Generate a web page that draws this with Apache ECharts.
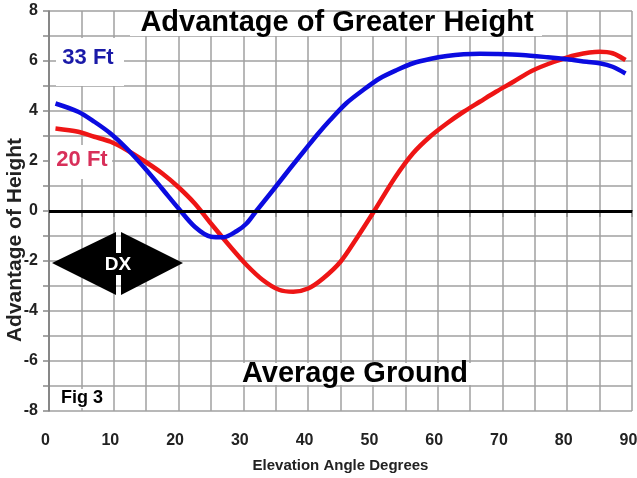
<!DOCTYPE html>
<html>
<head>
<meta charset="utf-8">
<script src="https://cdn.jsdelivr.net/npm/echarts@6/dist/echarts.min.js"></script>
<style>html,body{margin:0;padding:0;background:#fff;overflow:hidden;}#c{width:637px;height:478px;}</style>
</head>
<body>
<div id="c"></div>
<script>
// Elevation angle (deg) and advantage values
const angles33 = [1, 4.5, 7, 9.5, 12, 15, 17.5, 20, 22.5, 25, 27, 29, 30.5, 32, 34.6, 37.2, 39.5, 41.5, 43.4, 45.9, 48.5, 51.1, 53.7, 56.2, 58.8, 61.4, 64, 66.5, 69, 73, 77, 80, 83, 85, 87, 89];
const values33 = [4.3, 3.97, 3.57, 3.1, 2.5, 1.65, 0.88, 0.1, -0.63, -1.03, -1.05, -0.8, -0.5, 0.0, 0.84, 1.7, 2.44, 3.08, 3.64, 4.31, 4.84, 5.31, 5.64, 5.91, 6.08, 6.2, 6.27, 6.29, 6.28, 6.24, 6.15, 6.07, 5.97, 5.91, 5.77, 5.5];
const angles20 = [1, 4.5, 7, 9.5, 12, 15, 17.5, 20, 22.5, 25, 28, 30.5, 33, 35.5, 37.7, 40, 42.3, 45, 47.5, 50.3, 53.5, 56.2, 58.8, 61.4, 64, 66.5, 69, 71.7, 74.5, 78, 81.4, 85, 87, 89];
const values20 = [3.3, 3.17, 2.97, 2.77, 2.44, 1.95, 1.5, 0.95, 0.3, -0.5, -1.43, -2.16, -2.76, -3.15, -3.23, -3.1, -2.7, -2.03, -1.09, 0.04, 1.37, 2.31, 2.97, 3.5, 3.97, 4.37, 4.77, 5.17, 5.6, 5.97, 6.24, 6.37, 6.31, 6.04];
const xTicks = [0, 10, 20, 30, 40, 50, 60, 70, 80, 90];
const yTicks = [-8, -6, -4, -2, 0, 2, 4, 6, 8];

const pairs = (xs, ys) => xs.map((x, i) => [x, ys[i]]);
const chart = echarts.init(document.getElementById('c'), null, {renderer: 'canvas', width: 637, height: 478});
const labelFont = {fontFamily: 'Liberation Sans', fontWeight: 'bold', fontSize: 16, color: '#222'};
chart.setOption({
  animation: false,
  backgroundColor: '#fff',
  grid: {left: 49, right: 5, top: 11, bottom: 67, containLabel: false, outerBoundsMode: 'none'},
  xAxis: {
    type: 'value', min: 0, max: 90, interval: 5,
    name: 'Elevation Angle Degrees', nameLocation: 'middle', nameGap: 47,
    nameTextStyle: {fontFamily: 'Liberation Sans', fontWeight: 'bold', fontSize: 15, color: '#222'},
    axisLine: {show: true, lineStyle: {color: '#333', width: 2}},
    axisTick: {show: true, length: 6, lineStyle: {color: '#888', width: 1.5}},
    axisLabel: Object.assign({margin: 22, padding: [0, 7, 0, 0], formatter: v => xTicks.includes(v) ? String(v) : ''}, labelFont),
    splitLine: {show: true, lineStyle: {color: '#a0a0a0', width: 1.5}}
  },
  yAxis: {
    type: 'value', min: -8, max: 8, interval: 1,
    axisLine: {show: true, lineStyle: {color: '#777', width: 1.5}},
    axisTick: {show: true, length: 6, lineStyle: {color: '#888', width: 1.5}},
    axisLabel: Object.assign({margin: 11, formatter: v => yTicks.includes(v) ? String(v) : ''}, labelFont),
    splitLine: {show: true, lineStyle: {color: '#a0a0a0', width: 1.5}}
  },
  series: [
    {
      name: '20 Ft', type: 'line', data: pairs(angles20, values20), smooth: 0.3,
      showSymbol: false, lineStyle: {color: '#ee1515', width: 4.5}, z: 3,
      markLine: {silent: true, symbol: 'none', label: {show: false},
        lineStyle: {color: '#000', width: 3, type: 'solid'}, data: [{yAxis: 0}]}
    },
    {
      name: '33 Ft', type: 'line', data: pairs(angles33, values33), smooth: 0.3,
      showSymbol: false, lineStyle: {color: '#0b0be0', width: 4.5}, z: 4
    }
  ],
  graphic: [
    {type: 'rect', z: 50, shape: {x: 130, y: 12, width: 412, height: 24}, style: {fill: '#fff'}},
    {type: 'text', z: 51, x: 337, y: 23, style: {text: 'Advantage of Greater Height', font: 'bold 29px "Liberation Sans"', fill: '#000', align: 'center', verticalAlign: 'middle'}},
    {type: 'rect', z: 50, shape: {x: 56, y: 38, width: 68, height: 48}, style: {fill: '#fff'}},
    {type: 'text', z: 51, x: 88, y: 58, style: {text: '33 Ft', font: 'bold 22px "Liberation Sans"', fill: '#1a1aa8', align: 'center', verticalAlign: 'middle'}},
    {type: 'rect', z: 50, shape: {x: 50, y: 145, width: 62, height: 34}, style: {fill: '#fff'}},
    {type: 'text', z: 51, x: 82, y: 160, style: {text: '20 Ft', font: 'bold 22px "Liberation Sans"', fill: '#d8305a', align: 'center', verticalAlign: 'middle'}},
    {type: 'text', z: 51, x: 15, y: 240, rotation: Math.PI / 2, style: {text: 'Advantage of Height', font: 'bold 21px "Liberation Sans"', fill: '#222', align: 'center', verticalAlign: 'middle'}},
    {type: 'polygon', z: 40, shape: {points: [[52, 263], [116, 232], [116, 295]]}, style: {fill: '#000'}},
    {type: 'polygon', z: 40, shape: {points: [[121, 232], [183, 263], [121, 295]]}, style: {fill: '#000'}},
    {type: 'rect', z: 40, shape: {x: 115, y: 253, width: 7, height: 22}, style: {fill: '#000'}},
    {type: 'text', z: 41, x: 118, y: 265, style: {text: 'DX', font: 'bold 19px "Liberation Sans"', fill: '#fff', align: 'center', verticalAlign: 'middle'}},
    {type: 'rect', z: 50, shape: {x: 236, y: 363, width: 240, height: 22}, style: {fill: '#fff'}},
    {type: 'text', z: 51, x: 355, y: 374, style: {text: 'Average Ground', font: 'bold 29px "Liberation Sans"', fill: '#000', align: 'center', verticalAlign: 'middle'}},
    {type: 'rect', z: 50, shape: {x: 56, y: 389, width: 54, height: 19}, style: {fill: '#fff'}},
    {type: 'text', z: 51, x: 82, y: 398, style: {text: 'Fig 3', font: 'bold 18px "Liberation Sans"', fill: '#000', align: 'center', verticalAlign: 'middle'}}
  ]
});
</script>
</body>
</html>
